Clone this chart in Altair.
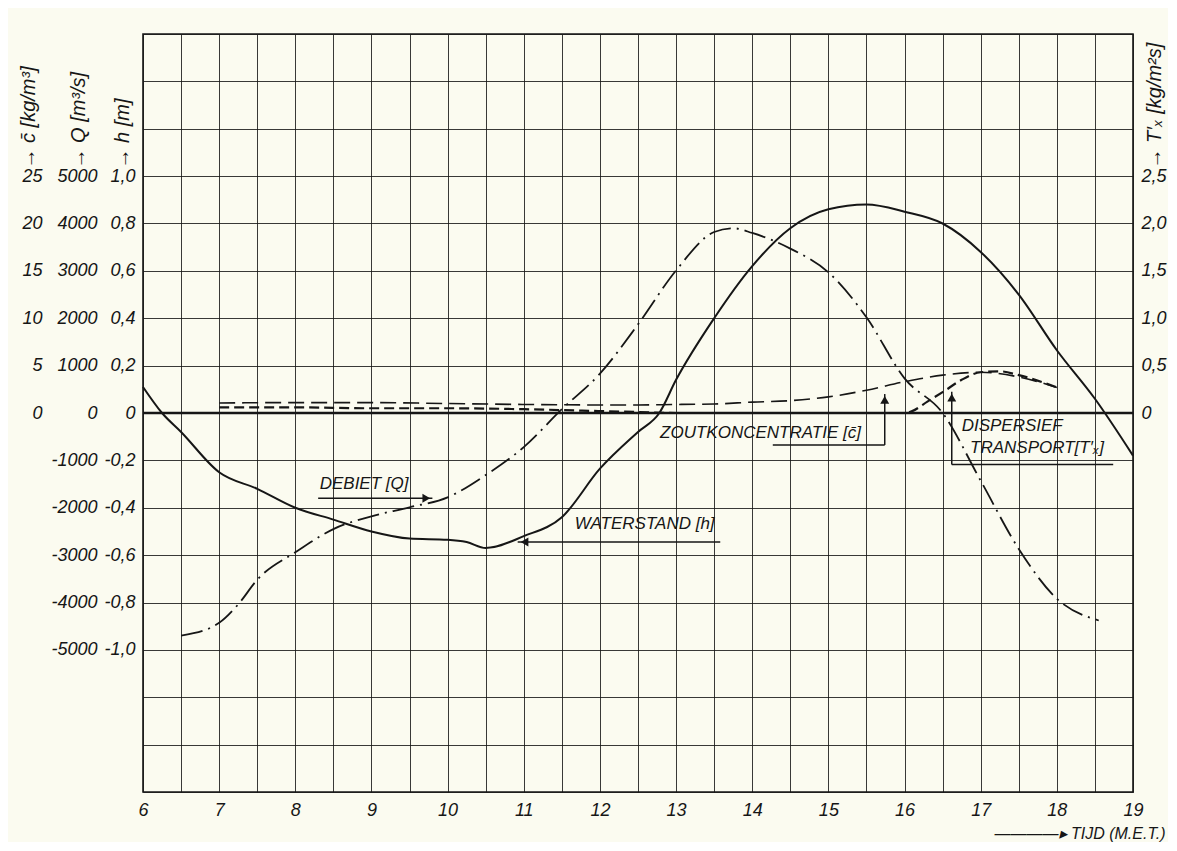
import altair as alt
import pandas as pd

# ---------------- data ----------------
# Waterstand h [m]
hours_h = [6.0, 6.25, 6.5, 7.0, 7.5, 8.0, 8.5, 9.0, 9.5, 10.0, 10.25, 10.5, 11.0, 11.5,
           12.0, 12.5, 12.78, 13.0, 13.5, 14.0, 14.5, 15.0, 15.5, 16.0, 16.5, 17.0,
           17.5, 18.0, 18.5, 19.0]
waterstand = [0.11, 0.0, -0.08, -0.25, -0.32, -0.40, -0.45, -0.50, -0.53, -0.535, -0.545,
              -0.57, -0.52, -0.44, -0.235, -0.08, 0.0, 0.14, 0.40, 0.62, 0.78, 0.86, 0.88,
              0.85, 0.80, 0.68, 0.50, 0.265, 0.06, -0.18]

# Debiet Q [m3/s]
hours_q = [6.5, 7.0, 7.25, 7.5, 8.0, 8.5, 9.0, 9.5, 10.0, 10.5, 11.0, 11.5, 12.0, 12.5,
           13.0, 13.5, 13.75, 14.0, 14.5, 15.0, 15.5, 16.0, 16.5, 17.0, 17.5, 18.0, 18.55]
debiet = [-4700, -4430, -4040, -3520, -2940, -2450, -2180, -1990, -1780, -1310, -720, 80,
          830, 1870, 3010, 3820, 3900, 3800, 3470, 2970, 2020, 730, 0, -1430, -2870,
          -3920, -4380]

# Zoutkoncentratie c [kg/m3]
hours_c = [7.0, 8.0, 9.0, 10.0, 11.0, 12.0, 12.5, 13.0, 13.5, 14.0, 14.5, 15.0, 15.5,
           16.0, 16.5, 17.0, 17.5, 18.0]
zout = [1.05, 1.1, 1.1, 1.0, 0.9, 0.85, 0.85, 0.9, 0.95, 1.15, 1.3, 1.7, 2.4, 3.3, 4.0,
        4.3, 3.8, 2.7]

# Dispersief transport T'x [kg/m2s]
hours_t = [7.0, 8.0, 9.0, 10.0, 11.0, 12.0, 12.5, 13.0, 14.0, 15.0, 16.0, 16.1, 16.3,
           16.5, 16.75, 17.0, 17.25, 17.5, 18.0]
transport = [0.06, 0.06, 0.05, 0.05, 0.04, 0.02, 0.01, 0.0, 0.0, 0.0, 0.0, 0.02, 0.12,
             0.22, 0.35, 0.43, 0.44, 0.40, 0.27]

# tick labels
x_ticks = [6 + 0.5 * i for i in range(27)]
h_ticks = [round(-1.6 + 0.2 * i, 1) + 0.0 for i in range(17)]
q_ticks = [-5000, -4000, -3000, -2000, -1000, 0, 1000, 2000, 3000, 4000, 5000]
c_ticks = [0, 5, 10, 15, 20, 25]
t_ticks = [0, 0.5, 1.0, 1.5, 2.0, 2.5]

# annotations (in hour / h-units)
ann_text = ["DEBIET [Q]", "WATERSTAND [h]", "ZOUTKONCENTRATIE [c\u0304]", "DISPERSIEF",
            "TRANSPORT[T\u2032\u2093]"]
ann_hour = [8.32, 11.67, 12.79, 16.75, 16.86]
ann_h = [-0.30, -0.467, -0.085, -0.056, -0.146]

lead_x = [8.30, 10.92, 14.27, 15.74, 16.62, 16.62]
lead_x2 = [9.80, 13.58, 15.74, 15.74, 16.62, 18.74]
lead_y = [-0.36, -0.545, -0.135, -0.135, 0.09, -0.217]
lead_y2 = [-0.36, -0.545, -0.135, 0.08, -0.217, -0.217]

head_x = [9.72, 11.01, 15.74, 16.62]
head_y = [-0.36, -0.545, 0.055, 0.065]
head_shape = ["triangle-right", "triangle-left", "triangle-up", "triangle-up"]

# ---------------- chart ----------------
FONT = "Liberation Sans"
INK = "#161616"

h_df = pd.DataFrame({"hour": hours_h, "h": waterstand})
q_df = pd.DataFrame({"hour": hours_q, "Q": debiet})
c_df = pd.DataFrame({"hour": hours_c, "c": zout})
t_df = pd.DataFrame({"hour": hours_t, "T": transport})
ann_df = pd.DataFrame({"hour": ann_hour, "h": ann_h, "label": ann_text})
lead_df = pd.DataFrame({"hour": lead_x, "hour2": lead_x2, "h": lead_y, "h2": lead_y2})
head_df = pd.DataFrame({"hour": head_x, "h": head_y, "shape": head_shape})
zero_df = pd.DataFrame({"h": [0.0]})

lab = dict(labelFont=FONT, labelFontStyle="italic", labelFontSize=18, labelColor=INK,
           labelOverlap=False, ticks=False, tickSize=0, domain=False)
ttl = dict(titleFont=FONT, titleFontStyle="italic", titleFontSize=20,
           titleFontWeight="normal", titleColor=INK)

x_enc = alt.X(
    "hour:Q",
    scale=alt.Scale(domain=[6, 19], nice=False, zero=False),
    axis=alt.Axis(values=x_ticks, grid=True, gridColor=INK, gridWidth=1, gridOpacity=0.85,
                  labelExpr="datum.value % 1 == 0 ? datum.value : ''", labelPadding=9,
                  labelFlush=False, labelBound=False,
                  title="\u2014\u2014\u2014\u2014\u25b8 TIJD (M.E.T.)", titleX=1022, titleY=41,
                  titleAlign="right", titleBaseline="middle", **lab,
                  titleFont=FONT, titleFontStyle="italic", titleFontSize=16,
                  titleFontWeight="normal", titleColor=INK),
)

y_h = alt.Y(
    "h:Q",
    scale=alt.Scale(domain=[-1.6, 1.6], nice=False, zero=False),
    axis=alt.Axis(orient="left", values=h_ticks, grid=True, gridColor=INK, gridWidth=1,
                  gridOpacity=0.85,
                  labelExpr="abs(datum.value) > 1.01 ? '' : (abs(datum.value) < 0.001 ? '0' : "
                            "(datum.value < 0 ? '-' : '') + replace(format(abs(datum.value), '.1f'), '.', ','))",
                  labelPadding=8, title="\u2192 h [m]", titleX=-21, titleY=134,
                  titleAngle=270, titleAlign="left", titleBaseline="middle", **lab, **ttl),
)

h_line = alt.Chart(h_df).mark_line(color=INK, strokeWidth=2, interpolate="monotone").encode(
    x=x_enc, y=y_h)
zero_rule = alt.Chart(zero_df).mark_rule(color=INK, strokeWidth=2.6).encode(y=y_h)
ann = alt.Chart(ann_df).mark_text(font=FONT, fontStyle="italic", fontSize=17, align="left",
                                  baseline="middle", color=INK).encode(
    x=x_enc, y=y_h, text="label:N")
leaders = alt.Chart(lead_df).mark_rule(color=INK, strokeWidth=1.5).encode(
    x=x_enc, x2="hour2:Q", y=y_h, y2="h2:Q")
heads = alt.Chart(head_df).mark_point(filled=True, size=80, opacity=1, color=INK).encode(
    x=x_enc, y=y_h, shape=alt.Shape("shape:N", scale=None))

h_group = alt.layer(zero_rule, h_line, leaders, heads, ann)

q_line = alt.Chart(q_df).mark_line(color=INK, strokeWidth=1.8, interpolate="monotone",
                                   strokeDash=[22, 6, 2, 6]).encode(
    x=x_enc,
    y=alt.Y("Q:Q", scale=alt.Scale(domain=[-8000, 8000], nice=False, zero=False),
            axis=alt.Axis(orient="left", values=q_ticks, grid=False, offset=40,
                          labelPadding=6,
                          labelExpr="abs(datum.value) < 1 ? '0' : (datum.value < 0 ? '-' : '') + abs(datum.value)",
                          title="\u2192 Q [m\u00b3/s]", titleX=-25, titleY=134,
                          titleAngle=270, titleAlign="left", titleBaseline="middle",
                          **lab, **ttl)),
)

c_line = alt.Chart(c_df).mark_line(color=INK, strokeWidth=1.6, interpolate="monotone",
                                   strokeDash=[16, 7]).encode(
    x=x_enc,
    y=alt.Y("c:Q", scale=alt.Scale(domain=[-40, 40], nice=False, zero=False),
            axis=alt.Axis(orient="left", values=c_ticks, grid=False, offset=95,
                          labelPadding=6, format="d",
                          title="\u2192 c\u0304 [kg/m\u00b3]", titleX=-20, titleY=134,
                          titleAngle=270, titleAlign="left", titleBaseline="middle",
                          **lab, **ttl)),
)

t_line = alt.Chart(t_df).mark_line(color=INK, strokeWidth=2.2, interpolate="monotone",
                                   strokeDash=[10, 5]).encode(
    x=x_enc,
    y=alt.Y("T:Q", scale=alt.Scale(domain=[-4, 4], nice=False, zero=False),
            axis=alt.Axis(orient="right", values=t_ticks, grid=False, labelPadding=8,
                          labelExpr="abs(datum.value) < 0.001 ? '0' : replace(format(datum.value, '.1f'), '.', ',')",
                          title="\u2192 T\u2032\u2093 [kg/m\u00b2s]", titleX=21, titleY=134,
                          titleAngle=270, titleAlign="left", titleBaseline="middle",
                          **lab, **ttl)),
)

chart = (
    alt.layer(h_group, q_line, c_line, t_line)
    .resolve_scale(y="independent")
    .properties(width=990, height=758, autosize=alt.AutoSizeParams(type="none"),
                padding={"left": 135, "top": 26, "right": 35, "bottom": 50})
    .configure(background="#fbfbf0")
    .configure_view(stroke=INK, strokeWidth=1.6)
)

chart.save("out.html", embed_options={"renderer": "svg", "actions": False})
